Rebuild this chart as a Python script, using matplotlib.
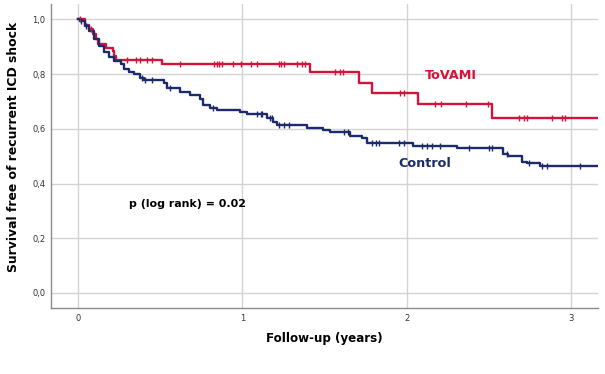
import numpy as np
import matplotlib
matplotlib.use("Agg")
import matplotlib.pyplot as plt

#%% data (event times in years, survival after the step)
tovami_t = [0.0, 0.04, 0.07, 0.09, 0.11, 0.12, 0.17, 0.21, 0.22, 0.23, 0.51, 1.41, 1.71, 1.79, 2.07, 2.52]
tovami_s = [1.0, 0.98, 0.963, 0.945, 0.927, 0.91, 0.897, 0.885, 0.867, 0.852, 0.836, 0.808, 0.769, 0.732, 0.691, 0.640]
tovami_cens = [0.01, 0.08, 0.30, 0.35, 0.38, 0.42, 0.45, 0.62, 0.83, 0.845, 0.86, 0.875, 0.94, 0.99,
               1.05, 1.09, 1.22, 1.235, 1.25, 1.33, 1.36, 1.38, 1.56, 1.59, 1.61, 1.96, 1.98,
               2.17, 2.21, 2.36, 2.49, 2.68, 2.71, 2.73, 2.88, 2.94, 2.96]

control_t = [0.0, 0.01, 0.04, 0.07, 0.10, 0.13, 0.16, 0.19, 0.22, 0.26, 0.28, 0.31, 0.34, 0.38,
             0.40, 0.52, 0.54, 0.62, 0.68, 0.74, 0.76, 0.80, 0.845, 0.985, 1.027, 1.149, 1.185,
             1.21, 1.392, 1.489, 1.532, 1.653, 1.726, 1.757, 2.036, 2.304, 2.584, 2.614, 2.70,
             2.73, 2.81]
control_s = [1.0, 0.995, 0.976, 0.958, 0.927, 0.902, 0.88, 0.861, 0.848, 0.836, 0.818, 0.807,
             0.80, 0.784, 0.777, 0.766, 0.748, 0.734, 0.723, 0.71, 0.686, 0.675, 0.668, 0.661,
             0.653, 0.638, 0.624, 0.613, 0.602, 0.595, 0.588, 0.573, 0.565, 0.547, 0.536, 0.529,
             0.507, 0.50, 0.478, 0.474, 0.464]
control_cens = [0.02, 0.05, 0.39, 0.41, 0.45, 0.56, 0.82, 1.09, 1.11, 1.12, 1.17, 1.18, 1.22,
                1.25, 1.28, 1.62, 1.64, 1.79, 1.81, 1.83, 1.95, 1.98, 2.09, 2.12, 2.15, 2.20,
                2.38, 2.50, 2.52, 2.61, 2.74, 2.82, 2.85, 3.05]

x_ticks = [0, 1, 2, 3]
y_ticks = [0.0, 0.2, 0.4, 0.6, 0.8, 1.0]
y_ticklabels = ["0,0", "0,2", "0,4", "0,6", "0,8", "1,0"]

red = "#d2143a"
navy = "#1c2b6b"
x_end = 3.16


def km_plot(ax, t, s, cens, color):
    t = list(t) + [x_end]
    s = list(s) + [s[-1]]
    ax.step(t, s, where="post", color=color, lw=1.7, zorder=3)
    # censor marks sit on the step function
    idx = np.searchsorted(np.array(t), np.array(cens), side="right") - 1
    ys = np.array(s)[idx]
    ax.plot(cens, ys, ls="none", marker="|", ms=5, mew=1.0, color=color, zorder=4)


#%% figure
fig = plt.figure(figsize=(6.05, 3.74), dpi=100)
ax = fig.add_axes([0.0843, 0.1765, 0.9037, 0.812])

km_plot(ax, tovami_t, tovami_s, tovami_cens, red)
km_plot(ax, control_t, control_s, control_cens, navy)

ax.set_xlim(-0.164, x_end)
ax.set_ylim(-0.055, 1.055)
ax.set_xticks(x_ticks)
ax.set_yticks(y_ticks)
ax.set_yticklabels(y_ticklabels)
ax.tick_params(length=0, labelsize=6, colors="#333333", pad=4)
ax.grid(True, color="#d4d4d4", lw=1.0)
ax.set_axisbelow(True)
for side in ["top", "right"]:
    ax.spines[side].set_visible(False)
for side in ["left", "bottom"]:
    ax.spines[side].set_color("#8c8c8c")
    ax.spines[side].set_linewidth(1.0)

ax.set_xlabel("Follow-up (years)", fontsize=8.6, fontweight="bold", labelpad=7)
ax.set_ylabel("Survival free of recurrent ICD shock", fontsize=8.9, fontweight="bold")
ax.yaxis.set_label_coords(-0.057, 0.531)

ax.text(2.27, 0.796, "ToVAMI", color=red, fontsize=9.2, fontweight="bold", ha="center", va="center")
ax.text(2.11, 0.474, "Control", color=navy, fontsize=9.2, fontweight="bold", ha="center", va="center")
ax.text(0.663, 0.325, "p (log rank) = 0.02", color="black", fontsize=7.9, fontweight="bold",
        ha="center", va="center")

fig.savefig("out.png", dpi=100, facecolor="white")
